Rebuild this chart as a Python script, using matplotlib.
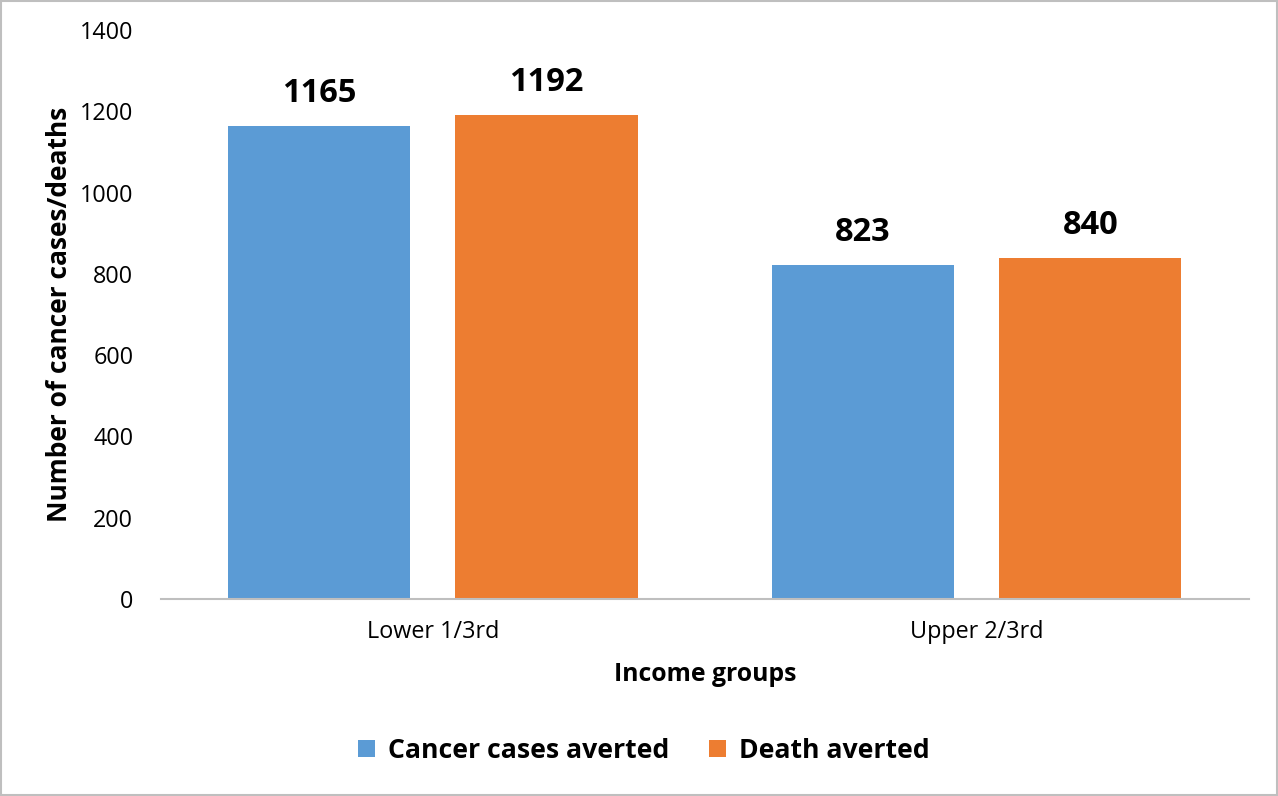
import matplotlib.pyplot as plt
import numpy as np
from matplotlib.patches import Rectangle

groups = ["Lower 1/3rd", "Upper 2/3rd"]
cases_averted = [1165, 823]
deaths_averted = [1192, 840]
series_names = ["Cancer cases averted", "Death averted"]

plt.rcParams["font.family"] = ["Open Sans", "DejaVu Sans"]

fig = plt.figure(figsize=(12.78, 7.96), dpi=100)
ax = fig.add_axes([0.126, 0.2475, 0.851, 0.7148])

x = np.arange(len(groups))
w = 0.335
off = 0.209
b1 = ax.bar(x - off, cases_averted, w, color="#5B9BD5", label=series_names[0])
b2 = ax.bar(x + off, deaths_averted, w, color="#ED7D31", label=series_names[1])

for bars in (b1, b2):
    for r in bars:
        ax.annotate(f"{int(r.get_height())}", (r.get_x() + r.get_width() / 2, r.get_height()),
                    xytext=(0, 11), textcoords="offset points", ha="center", va="bottom",
                    fontsize=23.5, fontweight="bold")

ax.set_xlim(-0.5, 1.5)
ax.set_ylim(0, 1400)
ax.set_yticks(range(0, 1401, 200))
ax.set_xticks(x)
ax.set_xticklabels(groups)
ax.tick_params(axis="both", length=0, labelsize=16.8)
ax.tick_params(axis="x", pad=15)
ax.tick_params(axis="y", pad=20)
for s in ("top", "right", "left"):
    ax.spines[s].set_visible(False)
ax.spines["bottom"].set_color("#BFBFBF")
ax.spines["bottom"].set_linewidth(1.5)

ax.set_xlabel("Income groups", fontsize=17.8, fontweight="bold", labelpad=13)
ax.set_ylabel("Number of cancer cases/deaths", fontsize=19, fontweight="bold", labelpad=5)

fig.legend(handles=[b1, b2], loc="center", bbox_to_anchor=(0.504, 0.057), ncol=2, frameon=False,
           prop={"size": 19.2, "weight": "bold"}, handlelength=0.62, handleheight=0.62,
           handletextpad=0.5, columnspacing=1.5)

fig.patches.append(Rectangle((0.001, 0.001), 0.998, 0.998, transform=fig.transFigure,
                             fill=False, edgecolor="#BFBFBF", linewidth=1.5))

fig.savefig("out.png", dpi=100)
